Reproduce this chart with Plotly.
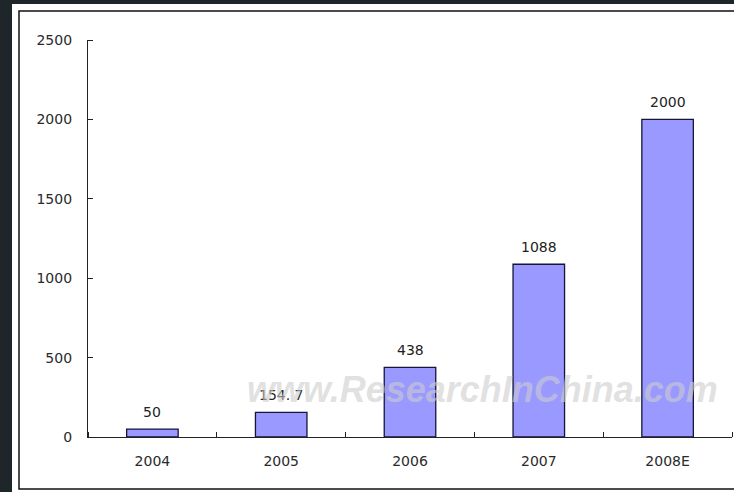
import plotly.graph_objects as go

categories = ["2004", "2005", "2006", "2007", "2008E"]
values = [50, 154.7, 438, 1088, 2000]
value_labels = ["50", "154. 7", "438", "1088", "2000"]
y_ticks = [0, 500, 1000, 1500, 2000, 2500]

W, H = 734, 492
L, R, T, B = 88, 2, 40, 55

pos = list(range(len(categories)))
bounds = [p - 0.5 for p in pos] + [pos[-1] + 0.5]

fig = go.Figure()
fig.add_trace(go.Bar(
    x=pos, y=values,
    marker=dict(color="#9999ff", line=dict(color="#15153a", width=1.3)),
    width=0.4, hoverinfo="skip",
))

for p, v, t in zip(pos, values, value_labels):
    fig.add_annotation(x=p, y=v, text=t, showarrow=False, yanchor="bottom",
                       yshift=7, font=dict(family="DejaVu Sans", size=14, color="#222222"))

# watermark
fig.add_annotation(xref="paper", yref="paper", x=(482 - L) / (W - L - R), y=(H - B - 412) / (H - T - B),
                   text="<b><i>www.ResearchInChina.com</i></b>", showarrow=False,
                   font=dict(family="Liberation Sans", size=36, color="rgba(205,205,205,0.6)"))

# white card and frame
fig.add_shape(type="rect", xref="paper", yref="paper", layer="below",
              x0=(12 - L) / (W - L - R), x1=(W + 10 - L) / (W - L - R),
              y0=(H - B - (H + 5)) / (H - T - B), y1=(H - B - 4) / (H - T - B),
              fillcolor="white", line=dict(width=0))
fig.add_shape(type="rect", xref="paper", yref="paper", layer="below",
              x0=(19 - L) / (W - L - R), x1=(W + 10 - L) / (W - L - R),
              y0=(H - B - 489) / (H - T - B), y1=(H - B - 11) / (H - T - B),
              fillcolor="white", line=dict(color="#111111", width=1.5))

fig.update_layout(
    width=W, height=H,
    margin=dict(l=L, r=R, t=T, b=B),
    paper_bgcolor="#1f2629", plot_bgcolor="rgba(0,0,0,0)",
    showlegend=False,
    font=dict(family="DejaVu Sans", size=14, color="#333333"),
)
fig.update_xaxes(range=[-0.5, len(categories) - 0.5], tickvals=pos, ticktext=categories,
                 automargin=False, showgrid=False, showline=True,
                 linecolor="#222222", linewidth=1.2,
                 ticks="outside", ticklen=11, tickcolor="rgba(0,0,0,0)", tickangle=0,
                 tickfont=dict(size=14, color="#2a2a2a"), zeroline=False,
                 minor=dict(tickvals=bounds, ticks="inside", ticklen=5, tickcolor="#222222",
                            showgrid=False))
fig.update_yaxes(range=[0, 2500], tickvals=y_ticks, automargin=False, showgrid=False, showline=True,
                 linecolor="#222222", linewidth=1.2,
                 ticks="outside", ticklen=12, tickcolor="rgba(0,0,0,0)",
                 tickfont=dict(size=14, color="#2a2a2a"), zeroline=False,
                 minor=dict(tickvals=y_ticks, ticks="inside", ticklen=5, tickcolor="#222222",
                            showgrid=False))

fig.write_html("out.html", config={"displayModeBar": False},
               post_script="document.body.style.margin='0';document.body.style.background='#1f2629';")
